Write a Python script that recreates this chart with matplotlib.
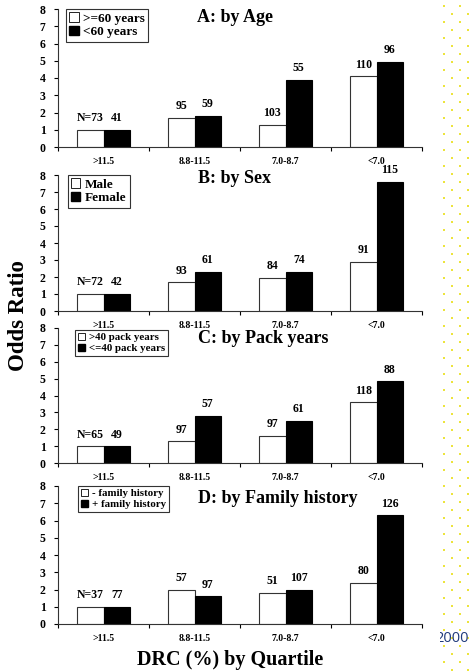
import matplotlib
matplotlib.use('Agg')
import matplotlib.pyplot as plt
from matplotlib.patches import Patch, Rectangle
import numpy as np

plt.rcParams['font.family'] = 'Liberation Serif'
plt.rcParams['font.weight'] = 'bold'

# DRC quartiles
quartiles = ['>11.5', '8.8-11.5', '7.0-8.7', '<7.0']

# A: by age
age_labels = ['>=60 years', '<60 years']
age_or_1 = [1.0, 1.7, 1.3, 4.1]
age_or_2 = [1.0, 1.8, 3.9, 4.95]
age_n_1 = [73, 95, 103, 110]
age_n_2 = [41, 59, 55, 96]

# B: by sex
sex_labels = ['Male', 'Female']
sex_or_1 = [1.0, 1.7, 1.95, 2.9]
sex_or_2 = [1.0, 2.3, 2.3, 7.6]
sex_n_1 = [72, 93, 84, 91]
sex_n_2 = [42, 61, 74, 115]

# C: by pack years
pack_labels = ['>40 pack years', '<=40 pack years']
pack_or_1 = [1.0, 1.3, 1.6, 3.6]
pack_or_2 = [1.0, 2.8, 2.5, 4.85]
pack_n_1 = [65, 97, 97, 118]
pack_n_2 = [49, 57, 61, 88]

# D: by family history
fam_labels = ['- family history', '+ family history']
fam_or_1 = [1.0, 2.0, 1.8, 2.4]
fam_or_2 = [1.0, 1.6, 2.0, 6.3]
fam_n_1 = [37, 57, 51, 80]
fam_n_2 = [77, 97, 107, 126]

panels = [
    ('A: by Age', age_labels, age_or_1, age_or_2, age_n_1, age_n_2),
    ('B: by Sex', sex_labels, sex_or_1, sex_or_2, sex_n_1, sex_n_2),
    ('C: by Pack years', pack_labels, pack_or_1, pack_or_2, pack_n_1, pack_n_2),
    ('D: by Family history', fam_labels, fam_or_1, fam_or_2, fam_n_1, fam_n_2),
]

W, H = 471, 672
fig = plt.figure(figsize=(W / 100, H / 100), dpi=100)

# axes boxes in pixels: (top, bottom)
boxes = [(9, 147), (175, 311), (328, 463), (486, 624)]
left_px, right_px = 58, 422
# title positions (axes fraction) and legend placement
title_pos = [(0.486, 0.935), (0.486, 0.975), (0.563, 0.92), (0.604, 0.913)]
leg_anchor = [(0.022, 1.0), (0.027, 1.0), (0.047, 0.985), (0.055, 1.0)]
leg_size = [9.5, 9.5, 7.8, 7.8]

x = np.arange(len(quartiles))
w = 0.29

for i, (title, labels, v1, v2, n1, n2) in enumerate(panels):
    top, bot = boxes[i]
    ax = fig.add_axes([left_px / W, 1 - bot / H, (right_px - left_px) / W, (bot - top) / H])
    b1 = ax.bar(x - w / 2, v1, w, color='white', edgecolor='#333333', linewidth=0.8)
    b2 = ax.bar(x + w / 2, v2, w, color='black', edgecolor='black', linewidth=0.8)

    for j, r in enumerate(b1):
        txt = f'N={n1[j]}' if j == 0 else f'{n1[j]}'
        ax.annotate(txt, (r.get_x() + r.get_width() / 2, r.get_height()),
                    xytext=(0, 4), textcoords='offset points',
                    ha='center', va='bottom', fontsize=8.5, fontweight='bold')
    for j, r in enumerate(b2):
        ax.annotate(f'{n2[j]}', (r.get_x() + r.get_width() / 2, r.get_height()),
                    xytext=(0, 4), textcoords='offset points',
                    ha='center', va='bottom', fontsize=8.5, fontweight='bold')

    ax.set_xlim(-0.5, 3.5)
    ax.set_ylim(0, 8)
    ax.set_yticks(range(9))
    ax.tick_params(axis='y', labelsize=8.5, length=3, width=0.8, pad=6)
    ax.set_xticks(np.arange(-0.5, 4.0, 1.0))
    ax.set_xticklabels([])
    ax.tick_params(axis='x', which='major', length=3, width=0.8)
    ax.set_xticks(x, minor=True)
    ax.set_xticklabels(quartiles, minor=True, fontsize=7, fontweight='bold')
    ax.tick_params(axis='x', which='minor', length=0, pad=7)
    for s in ['top', 'right']:
        ax.spines[s].set_visible(False)
    for s in ['left', 'bottom']:
        ax.spines[s].set_linewidth(0.8)
        ax.spines[s].set_color('#333333')

    ax.text(title_pos[i][0], title_pos[i][1], title, transform=ax.transAxes,
            ha='center', va='center', fontsize=13, fontweight='bold')

    handles = [Patch(facecolor='white', edgecolor='black', linewidth=0.6),
               Patch(facecolor='black', edgecolor='black')]
    leg = ax.legend(handles, labels, loc='upper left', bbox_to_anchor=leg_anchor[i],
                    borderaxespad=0, fancybox=False, framealpha=1,
                    handlelength=0.7, handleheight=0.7, handletextpad=0.35,
                    borderpad=0.25, labelspacing=0.12,
                    prop={'size': leg_size[i], 'weight': 'bold'})
    leg.get_frame().set_edgecolor('#333333')
    leg.get_frame().set_linewidth(0.8)

fig.text(0.040, 0.530, 'Odds Ratio', rotation=90, ha='center', va='center',
         fontsize=16.5, fontweight='bold')
fig.text(0.488, 0.018, 'DRC (%) by Quartile', ha='center', va='center',
         fontsize=14.5, fontweight='bold')

# slide background strip on the right: dotted pattern and year
bg = fig.add_axes([0, 0, 1, 1], zorder=-1)
bg.set_xlim(0, W)
bg.set_ylim(H, 0)
bg.axis('off')
rows = np.arange(5.7, H, 16)
for cx, off in [(444, 0), (460, 0), (452, 8), (468, 8)]:
    bg.plot(np.full(rows.size, cx), rows + off, 's', color='#ece43c',
            markersize=1.9, markeredgewidth=0)
bg.text(469, 639, '2000', ha='right', va='center', fontsize=10.5,
        family='Open Sans', fontweight='normal', color='#1f3a7a', zorder=3)
bg.add_patch(Rectangle((425, 625), 15, 25, facecolor='white', edgecolor='none',
                       zorder=5))

fig.savefig('out.png', dpi=100)
